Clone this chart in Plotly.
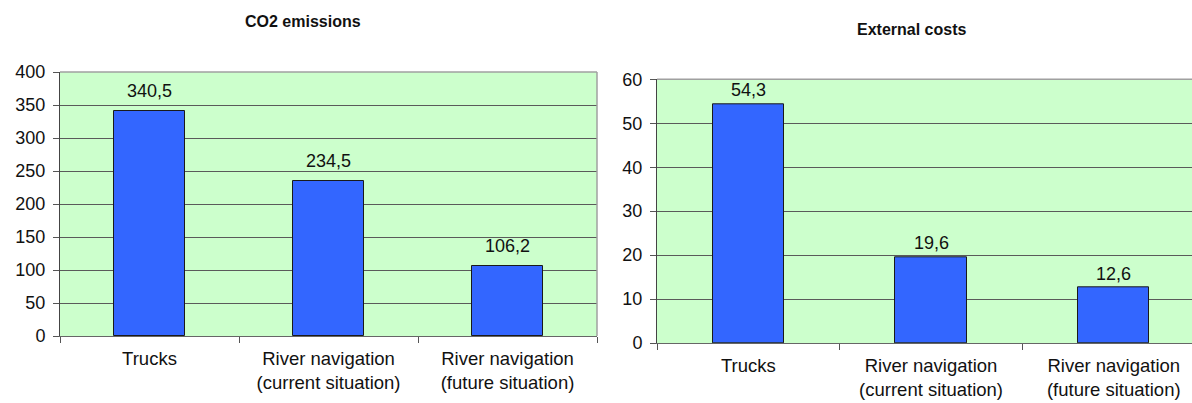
import plotly.graph_objects as go

categories = ["Trucks", "River navigation<br>(current situation)", "River navigation<br>(future situation)"]
co2_values = [340.5, 234.5, 106.2]
cost_values = [54.3, 19.6, 12.6]
titles = ["CO2 emissions", "External costs"]

W, H = 1192, 403
FONT = "Liberation Sans, Arial, sans-serif"
BAR_FILL = "#3366FF"
PLOT_BG = "#CCFFCC"
GRID = "#5a5a5a"


def fmt(v):
    return f"{v:.1f}".replace(".", ",")


def px_x(p):
    return p / W


def px_y(p):
    return 1 - p / H


fig = go.Figure()

fig.add_trace(go.Bar(
    x=categories, y=co2_values, width=0.4,
    marker=dict(color=BAR_FILL, line=dict(color="#1a1a1a", width=1)),
    xaxis="x", yaxis="y", hoverinfo="skip",
))
fig.add_trace(go.Bar(
    x=categories, y=cost_values, width=0.39,
    marker=dict(color=BAR_FILL, line=dict(color="#1a1a1a", width=1)),
    xaxis="x2", yaxis="y2", hoverinfo="skip",
))

common_x = dict(
    type="category", tickson="boundaries", ticks="outside", ticklen=6,
    tickcolor="#555", showgrid=False, showline=True, linecolor="#666",
    linewidth=1, tickfont=dict(family=FONT, size=18.5, color="#111"),
    ticklabelstandoff=6, fixedrange=True, automargin=False,
)
common_y = dict(
    ticks="outside", ticklen=6, tickcolor="#555", showgrid=True,
    gridcolor=GRID, gridwidth=1, showline=True, linecolor="#444",
    linewidth=1, zeroline=False, tickfont=dict(family=FONT, size=18, color="#111"),
    ticklabelstandoff=4, fixedrange=True, automargin=False,
)

# Right panel runs past the page edge, so its category range is cut short.
right_px = W - 657
cat_px = 182.7

fig.update_layout(
    width=W, height=H, margin=dict(l=0, r=0, t=0, b=0, autoexpand=False),
    paper_bgcolor="white", plot_bgcolor=PLOT_BG, showlegend=False,
    bargap=0,
    xaxis=dict(common_x, domain=[px_x(60), px_x(597)], range=[-0.5, 2.5], anchor="y"),
    yaxis=dict(common_y, domain=[px_y(336), px_y(72)], range=[0, 400], dtick=50, anchor="x"),
    xaxis2=dict(common_x, domain=[px_x(657), 1.0],
                range=[-0.5, -0.5 + right_px / cat_px], anchor="y2"),
    yaxis2=dict(common_y, domain=[px_y(343), px_y(79.3)], range=[0, 60], dtick=10, anchor="x2"),
)

# Light grey frame on top/right of the plotting areas
for xa, ya in (("x", "y"), ("x2", "y2")):
    fig.add_shape(type="line", xref=f"{xa} domain", yref=f"{ya} domain",
                  x0=0, x1=1, y0=1, y1=1, line=dict(color="#a0a0a0", width=1.5), layer="above")
fig.add_shape(type="line", xref="x domain", yref="y domain",
              x0=1, x1=1, y0=0, y1=1, line=dict(color="#a0a0a0", width=1.5), layer="above")

# Value labels above each bar
for xa, ya, vals, shift in (("x", "y", co2_values, 8), ("x2", "y2", cost_values, 2)):
    for c, v in zip(categories, vals):
        fig.add_annotation(x=c, y=v, xref=xa, yref=ya, text=fmt(v), showarrow=False,
                           yanchor="bottom", yshift=shift,
                           font=dict(family=FONT, size=18, color="#111"))

# Panel titles
fig.add_annotation(x=px_x(302.5), y=px_y(22), xref="paper", yref="paper", text=f"<b>{titles[0]}</b>",
                   showarrow=False, xanchor="center", yanchor="middle",
                   font=dict(family=FONT, size=16, color="#111"))
fig.add_annotation(x=px_x(911), y=px_y(29), xref="paper", yref="paper", text=f"<b>{titles[1]}</b>",
                   showarrow=False, xanchor="center", yanchor="middle",
                   font=dict(family=FONT, size=16, color="#111"))

fig.write_html("out.html")
